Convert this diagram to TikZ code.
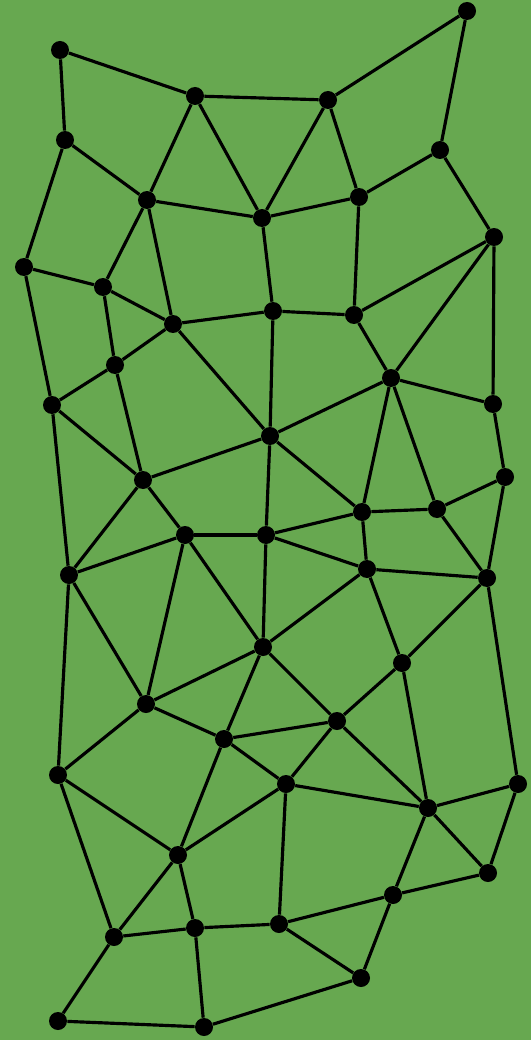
\documentclass[tikz,border=0pt]{standalone}
\usepackage{tikz}
\usepackage{xcolor}
\definecolor{meshgreen}{RGB}{103,168,80}

\begin{document}
\begin{tikzpicture}[
    x=0.02cm, y=-0.02cm,
    vertex/.style={circle, fill=black, inner sep=0pt, minimum size=0.36cm},
    mesh edge/.style={line width=1.8pt, line join=round}
  ]

  % background and frame
  \fill[meshgreen] (0,0) rectangle (531,1040);
  \useasboundingbox (0,0) rectangle (531,1040);

  % vertices
  \node[vertex] (n1) at (467, 11) {};
  \node[vertex] (n2) at (60, 50) {};
  \node[vertex] (n3) at (195, 96) {};
  \node[vertex] (n4) at (328, 100) {};
  \node[vertex] (n5) at (65, 140) {};
  \node[vertex] (n6) at (440, 150) {};
  \node[vertex] (n7) at (147, 200) {};
  \node[vertex] (n8) at (359, 197) {};
  \node[vertex] (n9) at (262, 218) {};
  \node[vertex] (n10) at (494, 237) {};
  \node[vertex] (n11) at (24, 267) {};
  \node[vertex] (n12) at (103, 287) {};
  \node[vertex] (n13) at (273, 311) {};
  \node[vertex] (n14) at (354, 315) {};
  \node[vertex] (n15) at (173, 324) {};
  \node[vertex] (n16) at (115, 365) {};
  \node[vertex] (n17) at (391, 378) {};
  \node[vertex] (n18) at (52, 405) {};
  \node[vertex] (n19) at (493, 404) {};
  \node[vertex] (n20) at (270, 436) {};
  \node[vertex] (n21) at (143, 480) {};
  \node[vertex] (n22) at (505, 477) {};
  \node[vertex] (n23) at (362, 512) {};
  \node[vertex] (n24) at (437, 509) {};
  \node[vertex] (n25) at (185, 535) {};
  \node[vertex] (n26) at (266, 535) {};
  \node[vertex] (n27) at (69, 575) {};
  \node[vertex] (n28) at (367, 569) {};
  \node[vertex] (n29) at (487, 578) {};
  \node[vertex] (n30) at (263, 647) {};
  \node[vertex] (n31) at (402, 663) {};
  \node[vertex] (n32) at (146, 704) {};
  \node[vertex] (n33) at (337, 721) {};
  \node[vertex] (n34) at (224, 739) {};
  \node[vertex] (n35) at (58, 775) {};
  \node[vertex] (n36) at (286, 784) {};
  \node[vertex] (n37) at (518, 784) {};
  \node[vertex] (n38) at (428, 808) {};
  \node[vertex] (n39) at (178, 855) {};
  \node[vertex] (n40) at (488, 873) {};
  \node[vertex] (n41) at (393, 895) {};
  \node[vertex] (n42) at (114, 937) {};
  \node[vertex] (n43) at (195, 928) {};
  \node[vertex] (n44) at (279, 924) {};
  \node[vertex] (n45) at (361, 978) {};
  \node[vertex] (n46) at (58, 1021) {};
  \node[vertex] (n47) at (204, 1027) {};

  % edges
  \foreach \a/\b in {
      n2/n3, n2/n5, n3/n4, n4/n1, n1/n6, n3/n7, n3/n9, n4/n9, n4/n8,
      n5/n7, n5/n11, n6/n8, n6/n10, n7/n9, n7/n12, n7/n15, n8/n9,
      n8/n14, n9/n13, n10/n14, n10/n17, n10/n19, n11/n12, n11/n18,
      n12/n15, n12/n16, n13/n15, n13/n14, n13/n20, n14/n17, n15/n16,
      n15/n20, n16/n18, n16/n21, n17/n19, n17/n20, n17/n23, n17/n24,
      n18/n21, n18/n27, n19/n22, n20/n21, n20/n26, n20/n23, n21/n25,
      n21/n27, n22/n24, n22/n29, n23/n24, n23/n26, n23/n28, n24/n29,
      n25/n26, n25/n27, n25/n32, n25/n30, n26/n30, n26/n28, n27/n32,
      n27/n35, n28/n29, n28/n30, n28/n31, n29/n31, n29/n37, n30/n32,
      n30/n34, n30/n33, n31/n33, n31/n38, n32/n34, n32/n35, n33/n34,
      n33/n36, n33/n38, n34/n36, n34/n39, n35/n39, n35/n42, n36/n39,
      n36/n38, n36/n44, n37/n38, n37/n40, n38/n40, n38/n41, n39/n42,
      n39/n43, n41/n44, n41/n45, n41/n40, n42/n43, n42/n46, n43/n44,
      n43/n47, n44/n45, n45/n47, n46/n47}
    \draw[mesh edge] (\a) -- (\b);

\end{tikzpicture}
\end{document}
